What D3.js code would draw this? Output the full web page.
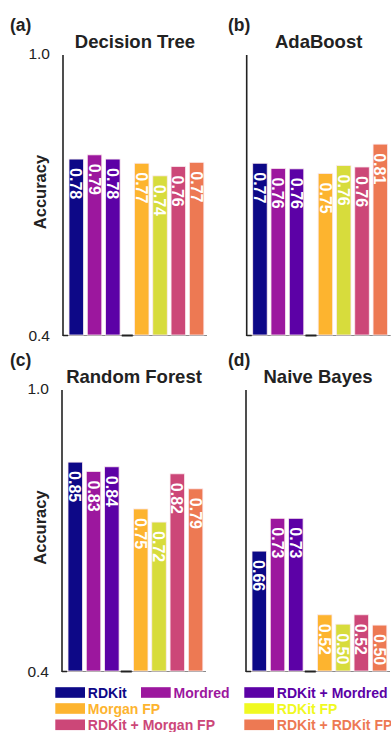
<!DOCTYPE html>
<html>
<head>
<meta charset="utf-8">
<script src="https://cdn.jsdelivr.net/npm/d3@7"></script>
<style>
  html, body { margin: 0; padding: 0; background: #fff; }
  svg { display: block; font-family: "Liberation Sans", Arial, sans-serif; }
</style>
</head>
<body>
<svg id="chart" width="391" height="732"></svg>
<script>
// feature sets, in bar order
const methods = ['RDKit', 'Mordred', 'RDKit + Mordred', 'Morgan FP', 'RDKit FP', 'RDKit + Morgan FP', 'RDKit + RDKit FP'];
const barColors = ['#0d0887', '#9c179e', '#5c01a6', '#fdb42f', '#d7dc3c', '#cc4778', '#ed7953'];
const legendColors = ['#0d0887', '#9c179e', '#5c01a6', '#fdb42f', '#f0f921', '#cc4778', '#ed7953'];

const panelTags = ['(a)', '(b)', '(c)', '(d)'];
const models = ['Decision Tree', 'AdaBoost', 'Random Forest', 'Naive Bayes'];

const accDecisionTree = [0.777, 0.786, 0.777, 0.768, 0.741, 0.761, 0.770];
const accAdaBoost     = [0.768, 0.757, 0.756, 0.746, 0.763, 0.760, 0.809];
const accRandomForest = [0.846, 0.826, 0.836, 0.746, 0.718, 0.821, 0.789];
const accNaiveBayes   = [0.656, 0.726, 0.726, 0.520, 0.500, 0.520, 0.498];
const accuracies = [accDecisionTree, accAdaBoost, accRandomForest, accNaiveBayes];

const yTicks = [0.4, 1.0];

const svg = d3.select('#chart');
const textColor = '#222';

// panel placement: axis x, top and bottom of the value range
const panelBox = [
  { x: 63, top: 55, bottom: 335 },
  { x: 246.7, top: 55, bottom: 335 },
  { x: 62, top: 390, bottom: 671 },
  { x: 246, top: 390, bottom: 671 }
];

const barWidth = 14.5;
const gapShift = 0.58; // extra room for the empty slot after the 3rd bar

const drawPanel = (i) => {
  const box = panelBox[i];
  const values = accuracies[i];
  const left = i % 2 === 0;
  const g = svg.append('g').attr('id', 'panel-' + i);

  const y = d3.scaleLinear().domain([0.4, 1.0]).range([box.bottom, box.top]);
  const slot = k => k >= 3 ? k + gapShift : k;
  const x = d3.scaleLinear().domain([0, 6 + gapShift]).range([box.x + 13.25, box.x + 133.6]);

  // x baseline
  g.append('line')
    .attr('x1', box.x).attr('x2', box.x + 144)
    .attr('y1', box.bottom + 0.5).attr('y2', box.bottom + 0.5)
    .attr('stroke', '#8a8a8a').attr('stroke-width', 1);

  // the empty slot shows as a short dark stub
  const gapMid = x(2 + (1 + gapShift) / 2);
  g.append('line')
    .attr('x1', gapMid - 5.5).attr('x2', gapMid + 5.5)
    .attr('y1', box.bottom + 0.5).attr('y2', box.bottom + 0.5)
    .attr('stroke', '#222').attr('stroke-width', 2);

  g.append('line')
    .attr('x1', box.x).attr('x2', box.x + 5)
    .attr('y1', box.bottom + 0.5).attr('y2', box.bottom + 0.5)
    .attr('stroke', '#222').attr('stroke-width', 1.5);

  g.selectAll('rect.bar')
    .data(values)
    .join('rect')
    .attr('class', 'bar')
    .attr('x', (d, k) => x(slot(k)) - barWidth / 2)
    .attr('width', barWidth)
    .attr('y', d => y(d))
    .attr('height', d => box.bottom - y(d))
    .attr('fill', (d, k) => barColors[k])
    .attr('stroke', '#fbe9ee')
    .attr('stroke-width', 0.8);

  g.selectAll('text.val')
    .data(values)
    .join('text')
    .attr('class', 'val')
    .attr('transform', (d, k) => `translate(${x(slot(k))},${y(d) + 9}) rotate(90)`)
    .attr('dy', '0.37em')
    .attr('fill', '#fff')
    .attr('font-size', 16)
    .attr('font-weight', 'bold')
    .text(d => d.toFixed(2));

  // y axis
  g.append('line')
    .attr('x1', box.x).attr('x2', box.x)
    .attr('y1', box.top).attr('y2', box.bottom + 1)
    .attr('stroke', '#222').attr('stroke-width', 1.6);

  if (left) {
    g.selectAll('text.tick')
      .data(yTicks)
      .join('text')
      .attr('class', 'tick')
      .attr('x', box.x - 13)
      .attr('y', d => y(d) - (d === 1.0 ? 2 : 0))
      .attr('dy', '0.36em')
      .attr('text-anchor', 'end')
      .attr('font-size', 15.5)
      .attr('fill', textColor)
      .text(d => d.toFixed(1));
  }

  // titles
  g.append('text')
    .attr('x', left ? 10 : 228)
    .attr('y', box.top - 30)
    .attr('dy', '0.36em')
    .attr('font-size', 17.5)
    .attr('font-weight', 'bold')
    .attr('fill', textColor)
    .text(panelTags[i]);

  g.append('text')
    .attr('x', box.x + 72)
    .attr('y', box.top - 14)
    .attr('dy', '0.36em')
    .attr('text-anchor', 'middle')
    .attr('font-size', 18.5)
    .attr('font-weight', 'bold')
    .attr('fill', textColor)
    .text(models[i]);

  if (left) {
    g.append('text')
      .attr('transform', `translate(40,${(box.top + box.bottom) / 2 - 3}) rotate(-90)`)
      .attr('dy', '0.36em')
      .attr('text-anchor', 'middle')
      .attr('font-size', 16.5)
      .attr('font-weight', 'bold')
      .attr('fill', textColor)
      .text('Accuracy');
  }
};

d3.range(4).forEach(drawPanel);

// legend: column and row of each entry
const legendCol = [0, 1, 2, 0, 2, 0, 2];
const legendRow = [0, 0, 0, 1, 1, 2, 2];
const colX = [55.3, 141, 244.3];
const rowY = [692.5, 708.5, 724.8];

const legend = svg.append('g').attr('id', 'legend');
const item = legend.selectAll('g')
  .data(methods)
  .join('g')
  .attr('transform', (d, k) => `translate(${colX[legendCol[k]]},${rowY[legendRow[k]]})`);

item.append('rect')
  .attr('x', 0).attr('y', -5.3)
  .attr('width', 29.7).attr('height', 10.6)
  .attr('fill', (d, k) => legendColors[k]);

item.append('text')
  .attr('x', 32.5)
  .attr('dy', '0.36em')
  .attr('font-size', 14)
  .attr('font-weight', 'bold')
  .attr('fill', (d, k) => legendColors[k])
  .text(d => d);
</script>
</body>
</html>
